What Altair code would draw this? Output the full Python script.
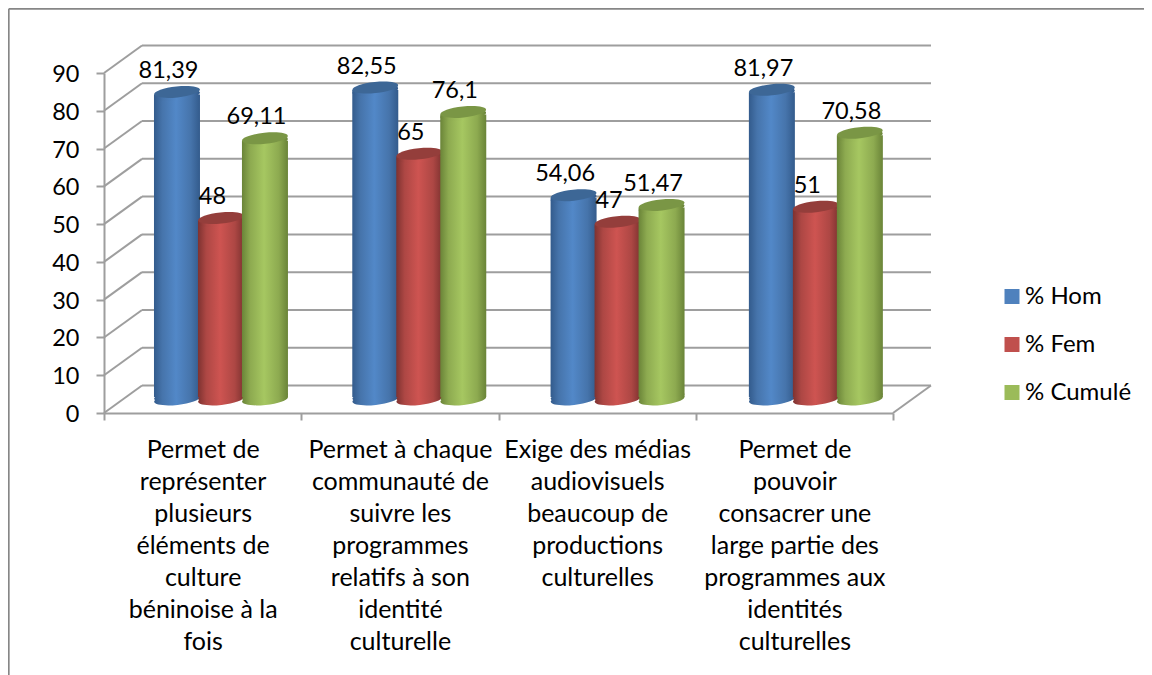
import altair as alt
import pandas as pd

categories = [
    ["Permet de", "représenter", "plusieurs", "éléments de", "culture", "béninoise à la", "fois"],
    ["Permet à chaque", "communauté de", "suivre les", "programmes", "relatifs à son", "identité", "culturelle"],
    ["Exige des médias", "audiovisuels", "beaucoup de", "productions", "culturelles"],
    ["Permet de", "pouvoir", "consacrer une", "large partie des", "programmes aux", "identités", "culturelles"],
]
series_names = ["% Hom", "% Fem", "% Cumulé"]
hom = [81.39, 82.55, 54.06, 81.97]
fem = [48, 65, 47, 51]
cumule = [69.11, 76.1, 51.47, 70.58]
series_values = [hom, fem, cumule]
y_ticks = list(range(0, 100, 10))
legend_colors = ["#4F81BD", "#C0504D", "#9BBB59"]
edge_dark = ["#335B8C", "#7E3230", "#6A8438"]
edge_mid = ["#4674AB", "#AD4744", "#8DAA50"]
center_bright = ["#5288C8", "#CE5451", "#A6C761"]
top_colors = ["#3D6796", "#943E3B", "#7A9645"]

PX_W, PX_H = 789, 340
TOTAL_W, TOTAL_H = 1136, 667
CAT_PX = PX_W / 4
V_PX = PX_H / 90
depth_x = 38 / CAT_PX
depth_y = 27.5 / V_PX
plane = 3.6
group_step = 198.3 / CAT_PX
slot_centers = [0.370, 0.593, 0.816]
half_w = 23 / CAT_PX
body_trim = 2.5 / V_PX
FONT = "Lato"
FS_NUM = 23.5
FS_CAT = 25
FS_LEG = 24
GRID = "#9E9E9E"
ELLIPSE = "M-1,0 A1,0.24 0 1,1 1,0 A1,0.24 0 1,1 -1,0 Z"
ELL_SIZE = 46 ** 2
TILT = 354

sx = alt.Scale(domain=[0, 4], nice=False, zero=False)
sy = alt.Scale(domain=[0, 90], nice=False, zero=False)

label_array = "[" + ",".join(
    "[" + ",".join("'" + w + "'" for w in c) + "]" for c in categories
) + "]"
x_axis = alt.Axis(
    values=[0, 0.5, 1, 1.5, 2, 2.5, 3, 3.5, 4],
    labelExpr=f"datum.value % 1 ? {label_array}[floor(datum.value)] : ''",
    title=None, grid=False, domainColor=GRID, domainWidth=2, tickColor=GRID, tickWidth=2, tickSize=7,
    tickOpacity={"condition": {"test": "datum.value % 1 !== 0", "value": 0}, "value": 1},
    labelFont=FONT, labelFontSize=FS_CAT, labelColor="#000000", labelLineHeight=32, labelLimit=400,
    labelBaseline="top", labelPadding=17, labelAngle=0, labelOverlap=False, labelFlush=False, labelBound=False,
)
y_axis = alt.Axis(
    values=y_ticks, title=None, grid=False, domainColor=GRID, domainWidth=2, tickColor=GRID, tickWidth=2, tickSize=8,
    labelFont=FONT, labelFontSize=FS_NUM, labelColor="#000000", labelPadding=17, labelOffset=1.5,
    labelOverlap=False, labelBound=False,
)


def X(f, **k):
    return alt.X(f, type="quantitative", scale=sx, axis=x_axis, **k)


def Y(f, **k):
    return alt.Y(f, type="quantitative", scale=sy, axis=y_axis, **k)


def gradient(i):
    return alt.Gradient(
        gradient="linear", x1=0, x2=1, y1=0, y2=0,
        stops=[
            alt.GradientStop(offset=0, color=edge_dark[i]),
            alt.GradientStop(offset=0.18, color=edge_mid[i]),
            alt.GradientStop(offset=0.48, color=center_bright[i]),
            alt.GradientStop(offset=0.8, color=edge_mid[i]),
            alt.GradientStop(offset=1, color=edge_dark[i]),
        ],
    )


# --- walls, floor and axes ---
levels = pd.DataFrame({"v": y_ticks})
levels["x0"] = 0.0
levels["x1"] = depth_x
levels["x2"] = 4 + depth_x
levels["back"] = levels["v"] + depth_y

side = alt.Chart(levels).mark_rule(color=GRID, strokeWidth=2).encode(
    x=X("x0"), x2="x1:Q", y=Y("v"), y2="back:Q",
)
back = alt.Chart(levels).mark_rule(color=GRID, strokeWidth=2).encode(
    x=X("x1"), x2="x2:Q", y=Y("back"),
)
floor_df = pd.DataFrame({"a": [4.0], "b": [4 + depth_x], "c": [0.0], "d": [depth_y]})
floor = alt.Chart(floor_df).mark_rule(color=GRID, strokeWidth=2).encode(
    x=X("a"), x2="b:Q", y=Y("c"), y2="d:Q",
)

# --- outer frame (partial, as in the reference) ---
one = alt.Data(values=[{"k": 1}])
frame_top = alt.Chart(one).mark_rule(color="#868686", strokeWidth=1.7).encode(
    x=alt.value(-95.2), x2=alt.value(TOTAL_W - 96), y=alt.value(-64.2))
frame_left = alt.Chart(one).mark_rule(color="#868686", strokeWidth=1.7).encode(
    x=alt.value(-95.2), y=alt.value(-64.2), y2=alt.value(TOTAL_H - 65))

# --- cylinders ---
layers = [frame_top, frame_left, side, back, floor]
label_rows = []
for i, name in enumerate(series_names):
    rows = []
    for c, val in enumerate(series_values[i]):
        cx = c * group_step + slot_centers[i]
        top = val + plane
        rows.append({"cx": cx, "left": cx - half_w, "right": cx + half_w, "base": plane,
                     "bottom": plane + body_trim, "top": top, "body": top - body_trim})
        label_rows.append({"cx": cx, "top": top, "text": str(val).replace(".", ",")})
    df = pd.DataFrame(rows)

    def ell(field, fill, offset=0):
        return alt.Chart(df).mark_point(shape=ELLIPSE, size=ELL_SIZE, filled=True, fill=fill, opacity=1,
                                        strokeWidth=0, angle=TILT, yOffset=offset).encode(x=X("cx"), y=Y(field))

    body = alt.Chart(df).mark_bar(fill=gradient(i), opacity=1).encode(
        x=X("left"), x2="right:Q", y=Y("bottom"), y2="body:Q")
    layers += [ell("base", gradient(i)), ell("base", gradient(i), -3), body,
               ell("top", gradient(i), 3), ell("top", top_colors[i])]

labels = alt.Chart(pd.DataFrame(label_rows)).mark_text(
    font=FONT, fontSize=FS_NUM, color="#000000", dx=-8.5, dy=-21, baseline="middle", align="center"
).encode(x=X("cx"), y=Y("top"), text="text:N")
layers.append(labels)

# --- legend ---
legend_df = pd.DataFrame({"s": series_names})
legend_layer = alt.Chart(legend_df).mark_square(size=1, opacity=0).encode(
    x=alt.value(0), y=alt.value(0),
    color=alt.Color("s:N", scale=alt.Scale(domain=series_names, range=legend_colors),
                    legend=alt.Legend(orient="none", legendX=896, legendY=211.5, title=None, padding=0,
                                      symbolType="square", symbolSize=225, symbolOpacity=1, symbolStrokeWidth=0,
                                      labelFont=FONT, labelFontSize=FS_LEG, labelColor="#000000", labelOffset=1,
                                      rowPadding=24)),
)
layers.append(legend_layer)

chart = alt.layer(*layers).properties(
    width=PX_W, height=PX_H,
    autosize=alt.AutoSizeParams(type="none"),
    padding={"left": 96, "top": 65, "right": TOTAL_W - 96 - PX_W, "bottom": TOTAL_H - 65 - PX_H},
    background="#FFFFFF",
).configure_view(stroke=None)

chart.save("out.html", embed_options={"renderer": "svg", "actions": False})
